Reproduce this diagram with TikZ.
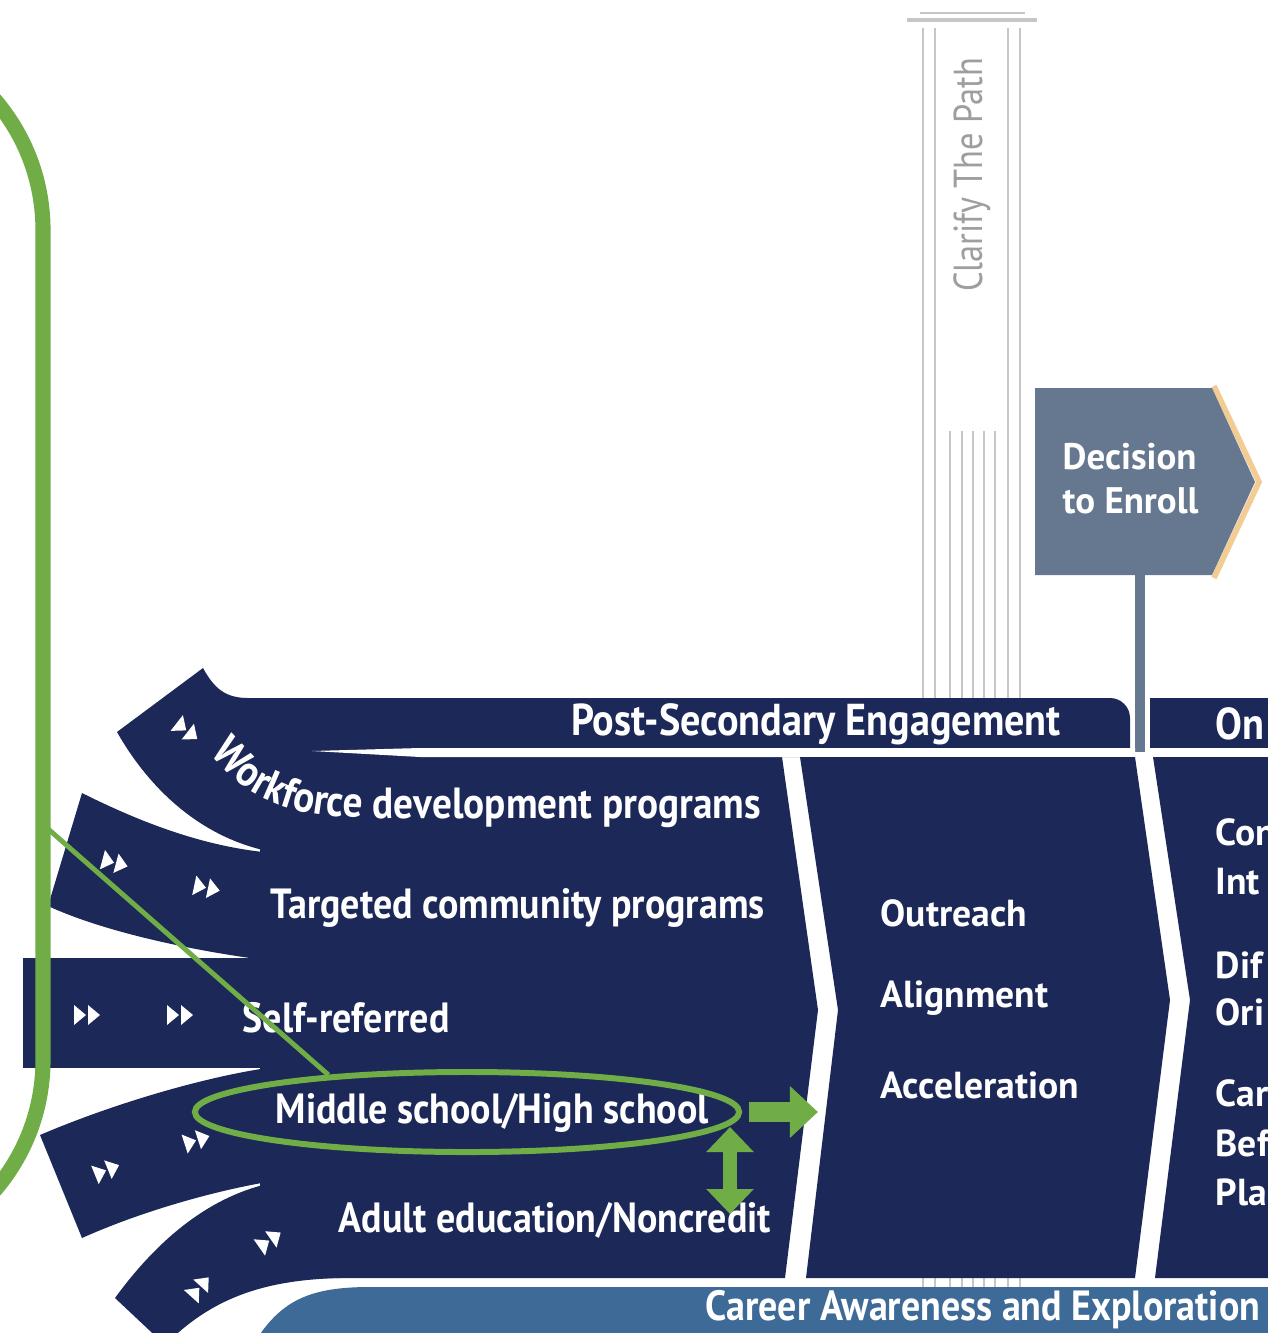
\documentclass[tikz,border=0pt]{standalone}
\usepackage{fontspec}
\setmainfont{PT Sans}
\newfontfamily\armfont[FakeStretch=0.9]{PT Sans}
\newfontfamily\pathfont[FakeStretch=0.85]{PT Sans}
\usetikzlibrary{shapes.geometric,arrows.meta,decorations.text}
\definecolor{navy}{HTML}{1C2857}
\definecolor{steel}{HTML}{3E6A98}
\definecolor{slate}{HTML}{657890}
\definecolor{gold}{HTML}{F2CC92}
\definecolor{pale}{HTML}{C6C6C6}
\definecolor{leaf}{HTML}{70AD47}
\tikzset{ffwd/.pic={
  \fill[white] (-13,-10) -- (-1,0) -- (-13,10) -- cycle;
  \fill[white] (1,-10) -- (13,0) -- (1,10) -- cycle;
}}

\begin{document}
\begin{tikzpicture}[x=0.01cm,y=-0.01cm]
  \tikzstyle{arm}=[fill=navy]
  \tikzstyle{armtext}=[text=white,font=\armfont\bfseries\fontsize{12}{14}\selectfont,inner sep=0pt,anchor=west]
  \tikzstyle{headtext}=[text=white,font=\armfont\bfseries\fontsize{12.7}{14}\selectfont,inner sep=0pt]
  \tikzstyle{boxtext}=[text=white,font=\bfseries\fontsize{10.7}{13}\selectfont,inner sep=0pt,anchor=west]
  \tikzstyle{rule}=[pale,line width=0.6pt]
  \tikzstyle{ring}=[draw=leaf,line width=1.7pt,ellipse,minimum width=5.44cm,minimum height=0.8cm,inner sep=0pt]
  \tikzstyle{grarrow}=[leaf,line width=5.7pt,-{Triangle[width=0.5cm,length=0.28cm]}]
  \tikzstyle{twoway}=[leaf,line width=4pt,{Triangle[width=0.46cm,length=0.25cm]}-{Triangle[width=0.46cm,length=0.25cm]}]

  \useasboundingbox (0,0) rectangle (1268,1333);
  \clip (0,0) rectangle (1268,1333);

  % pillar
  \draw[rule] (920,13) -- (1025,13);
  \draw[rule,line width=1.2pt] (907,20) -- (1037,20);
  \foreach \x in {923,935,1008,1020} \draw[rule] (\x,28) -- (\x,1287);
  \foreach \x in {950,962,973,984,995} \draw[rule] (\x,431) -- (\x,1287);
  \node (clarify) at (972,175) [rotate=90,text=pale!80!black,font=\pathfont\fontsize{11.5}{13}\selectfont] {Clarify The Path};

  % decision
  \draw[gold,line width=1.6pt] (1214,386) -- (1259,482) -- (1214,578);
  \fill[slate] (1035,388) -- (1212,388) -- (1255,482) -- (1212,575) -- (1035,575) -- cycle;
  \node (dec) at (1062,479) [boxtext,align=left,font=\bfseries\fontsize{10.5}{12.5}\selectfont] {Decision\\to Enroll};
  \coordinate (stemtop) at (1140,575);
  \coordinate (stembot) at (1140,752);
  \draw[slate,line width=2.6pt] (stemtop) -- (stembot);

  % funnel arms
  \fill[arm] (117,732) -- (203,668) .. controls (214,688) and (225,698) .. (248,698) -- (1110,698)
    arc (-90:0:20) -- (1130,757) -- (270,757) -- (270,850) -- (263,850)
    .. controls (200,835) and (150,790) .. (117,732) -- cycle;
  \fill[arm] (82,793) .. controls (140,822) and (200,845) .. (263,852) -- (280,852) -- (280,958)
    -- (250,958) .. controls (180,948) and (100,930) .. (48,906) -- cycle;
  \fill[arm] (23,958) rectangle (280,1068);
  \fill[arm] (267,1068) -- (280,1068) -- (280,1182) -- (267,1182)
    .. controls (210,1192) and (140,1212) .. (82,1238) -- (40,1135)
    .. controls (110,1105) and (200,1078) .. (267,1068) -- cycle;
  \fill[arm] (115,1298) .. controls (150,1250) and (200,1200) .. (267,1184) -- (340,1184) -- (340,1278)
    .. controls (260,1280) and (210,1300) .. (165,1345) -- cycle;
  \fill[arm] (260,757) -- (782,757) -- (818,1010) -- (785,1278) -- (260,1278) -- cycle;
  \fill[white] (312,751) -- (420,748) -- (1135,748) -- (1135,757) -- (420,757) -- cycle;

  % columns
  \fill[arm] (800,757) -- (1135,757) -- (1170,1000) -- (1135,1278) -- (806,1278) -- (838,1010) -- cycle;
  \fill[arm] (1153,757) -- (1280,757) -- (1280,1278) -- (1155,1278) -- (1190,1000) -- cycle;
  \fill[arm] (1150,698) rectangle (1280,748);
  \fill[steel] (253,1345) .. controls (280,1300) and (310,1287) .. (370,1287) -- (1280,1287) -- (1280,1345) -- cycle;

  % chevrons
  \pic[rotate=-38] at (187,731) {ffwd};
  \pic[rotate=-15] at (115,863) {ffwd};
  \pic[rotate=-12] at (207,888) {ffwd};
  \pic at (87,1015) {ffwd};
  \pic at (180,1015) {ffwd};
  \pic[rotate=22] at (107,1170) {ffwd};
  \pic[rotate=18] at (197,1140) {ffwd};
  \pic[rotate=35] at (270,1240) {ffwd};
  \pic[rotate=48] at (200,1287) {ffwd};

  % labels
  \path[decorate,decoration={text along path,text color=white,text align=left,
    text={|\armfont\bfseries\fontsize{12.4}{14}\selectfont|Workforce development programs}}]
    (210,753) .. controls (252,806) and (300,818) .. (380,818) -- (860,818);
  \node (tcp) at (270,908) [armtext] {Targeted community programs};
  \node (self) at (242,1018) [armtext] {Self-referred};
  \node (hs) at (275,1113) [armtext] {Middle school/High school};
  \node (adult) at (338,1220) [armtext] {Adult education/Noncredit};
  \node (pse) at (816,724) [headtext] {Post-Secondary Engagement};
  \node (onb) at (1215,724) [headtext,anchor=west] {On};
  \node (outreach) at (880,913) [boxtext] {Outreach};
  \node (align) at (880,998) [boxtext] {Alignment};
  \node (accel) at (880,1085) [boxtext] {Acceleration};
  \node (r1) at (1215,832) [boxtext] {Con};
  \node (r2) at (1215,882) [boxtext] {Int};
  \node (r3) at (1215,965) [boxtext] {Dif};
  \node (r4) at (1215,1012) [boxtext] {Ori};
  \node (r5) at (1215,1093) [boxtext] {Car};
  \node (r6) at (1215,1143) [boxtext] {Bef};
  \node (r7) at (1215,1192) [boxtext] {Pla};
  \node (career) at (983,1310) [armtext,anchor=center] {Career Awareness and Exploration};

  % highlight
  \draw[leaf,line width=4.3pt,rounded corners=2cm] (-300,30) -- (43,30) -- (43,1260) -- (-300,1260);
  \coordinate (fr) at (47,828);
  \node (hsring) at (467,1112) [ring] {};
  \draw[leaf,line width=1.4pt] (fr) -- (hsring.165);
  \coordinate (gap) at (818,1112);
  \draw[grarrow] ([xshift=2pt]hsring.east) -- (gap);
  \coordinate (dtop) at (730,1127);
  \coordinate (dbot) at (730,1214);
  \draw[twoway] (dtop) -- (dbot);
\end{tikzpicture}
\end{document}
